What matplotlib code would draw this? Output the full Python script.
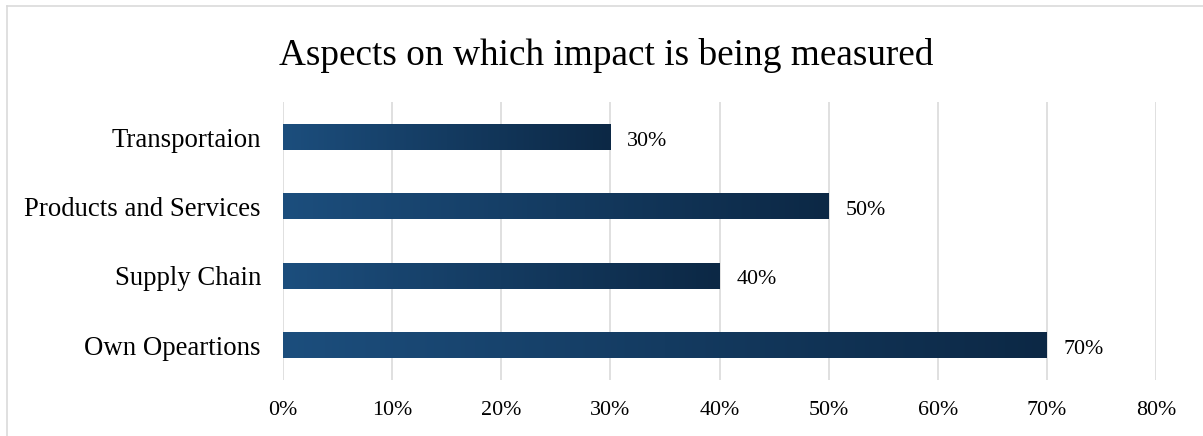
import numpy as np
import matplotlib
matplotlib.use("Agg")
import matplotlib.pyplot as plt
from matplotlib.colors import LinearSegmentedColormap
from matplotlib.lines import Line2D

categories = ["Own Opeartions", "Supply Chain", "Products and Services", "Transportaion"]
values = [70, 40, 50, 30]
xticks = [0, 10, 20, 30, 40, 50, 60, 70, 80]
xtick_labels = [f"{t}%" for t in xticks]
title = "Aspects on which impact is being measured"

W, H, DPI = 1203, 436, 100
px = 72.0 / DPI  # points per pixel

plt.rcParams["font.family"] = ["Liberation Serif", "DejaVu Serif"]

fig = plt.figure(figsize=(W / DPI, H / DPI), dpi=DPI)
ax = fig.add_axes([283 / W, 1 - 380 / H, (1156 - 283) / W, (380 - 102.5) / H])

y = np.arange(len(categories))
bar_h = 0.37
bars = ax.barh(y, values, height=bar_h, color="none", edgecolor="none", zorder=3)

grad_cmap = LinearSegmentedColormap.from_list("navy", ["#1c4e7d", "#0c2845"])
gradient = np.linspace(0, 1, 256).reshape(1, -1)
for b, v in zip(bars, values):
    x0, y0 = b.get_x(), b.get_y()
    ax.imshow(gradient, cmap=grad_cmap, aspect="auto", interpolation="bicubic",
              extent=(x0, x0 + b.get_width(), y0, y0 + b.get_height()), zorder=3)
    ax.annotate(f"{v}%", xy=(x0 + b.get_width(), y0 + b.get_height() / 2),
                xytext=(17 * px, -4 * px), textcoords="offset points",
                ha="left", va="center", fontsize=22 * px, color="#000000")

ax.set_xlim(0, 80)
ax.set_ylim(-0.5, len(categories) - 0.5)
ax.set_xticks(xticks)
ax.set_xticklabels(xtick_labels, fontsize=22 * px)
ax.set_yticks(y)
ax.set_yticklabels(categories, fontsize=26.7 * px)
ax.tick_params(axis="both", length=0)
ax.tick_params(axis="x", pad=21 * px)
ax.tick_params(axis="y", pad=22 * px)
ax.xaxis.grid(True, color="#d9d9d9", linewidth=1.6 * px, zorder=0)
ax.set_axisbelow(True)
for s in ax.spines.values():
    s.set_visible(False)

fig.text(606 / W, 1 - 65 / H, title, ha="center", va="baseline",
         fontsize=37.2 * px, color="#000000")

# light outer frame (left and top edges)
fig.add_artist(Line2D([6.5 / W, 6.5 / W], [0, 1 - 6.5 / H], transform=fig.transFigure,
                      color="#d9d9d9", linewidth=1.6 * px))
fig.add_artist(Line2D([6.5 / W, 1], [1 - 6.5 / H, 1 - 6.5 / H], transform=fig.transFigure,
                      color="#d9d9d9", linewidth=1.6 * px))

fig.savefig("out.png", dpi=DPI)
